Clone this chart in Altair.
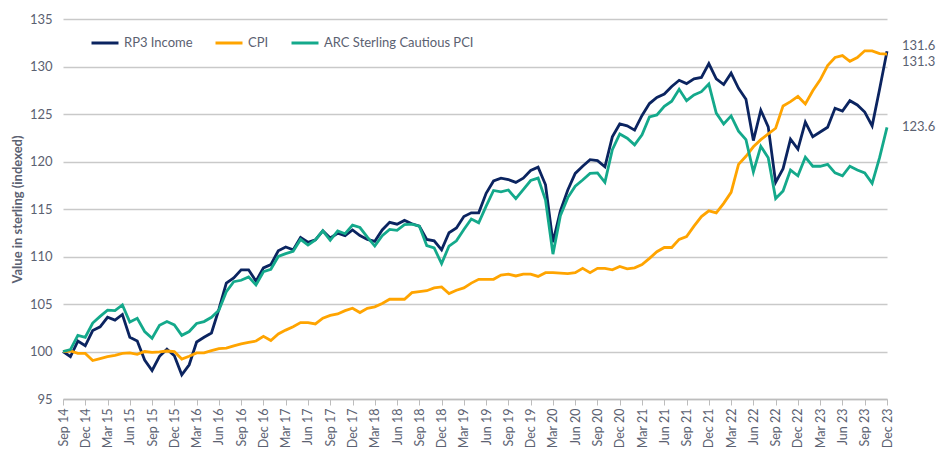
import json
import altair as alt
import pandas as pd

series_names = ["RP3 Income", "CPI", "ARC Sterling Cautious PCI"]
series_colors = ["#0b2460", "#ffa400", "#14a98b"]

tick_labels = ["Sep 14", "Dec 14", "Mar 15", "Jun 15", "Sep 15", "Dec 15", "Mar 16", "Jun 16",
               "Sep 16", "Dec 16", "Mar 17", "Jun 17", "Sep 17", "Dec 17", "Mar 18", "Jun 18",
               "Sep 18", "Dec 18", "Mar 19", "Jun 19", "Sep 19", "Dec 19", "Mar 20", "Jun 20",
               "Sep 20", "Dec 20", "Mar 21", "Jun 21", "Sep 21", "Dec 21", "Mar 22", "Jun 22",
               "Sep 22", "Dec 22", "Mar 23", "Jun 23", "Sep 23", "Dec 23"]

y_ticks = [95, 100, 105, 110, 115, 120, 125, 130, 135]

rp3 = [100.0, 99.45, 101.1, 100.6, 102.2, 102.6, 103.6, 103.3, 103.9, 101.5,
       101.1, 99.1, 98.0, 99.5, 100.25, 99.55, 97.55, 98.6, 101.0, 101.5,
       101.95, 104.45, 107.2, 107.75, 108.6, 108.6, 107.4, 108.8, 109.15, 110.6,
       111.0, 110.7, 112.0, 111.5, 111.75, 112.7, 111.95, 112.45, 112.2, 112.8,
       112.2, 111.8, 111.6, 112.8, 113.6, 113.4, 113.8, 113.45, 113.2, 111.8,
       111.65, 110.7, 112.5, 113.0, 114.2, 114.6, 114.6, 116.65, 117.95, 118.25,
       118.1, 117.8, 118.25, 119.05, 119.4, 117.55, 111.5, 114.8, 117.0, 118.75,
       119.5, 120.2, 120.1, 119.45, 122.6, 123.95, 123.75, 123.3, 124.85, 126.1,
       126.75, 127.1, 127.9, 128.55, 128.2, 128.7, 128.85, 130.3, 128.7, 128.1,
       129.3, 127.7, 126.55, 122.2, 125.4, 123.65, 117.8, 119.25, 122.35, 121.3,
       124.15, 122.6, 123.1, 123.6, 125.6, 125.3, 126.4, 125.95, 125.2, 123.75,
       127.6, 131.6]

cpi = [100.0, 100.05, 99.8, 99.8, 99.05, 99.25, 99.45, 99.6, 99.8, 99.85,
       99.7, 100.0, 99.9, 99.95, 100.05, 100.0, 99.2, 99.5, 99.85, 99.85,
       100.1, 100.3, 100.35, 100.6, 100.8, 100.95, 101.1, 101.6, 101.15, 101.85,
       102.25, 102.6, 103.05, 103.05, 102.9, 103.5, 103.8, 103.95, 104.3, 104.55,
       104.1, 104.55, 104.7, 105.05, 105.5, 105.5, 105.5, 106.2, 106.3, 106.4,
       106.7, 106.8, 106.1, 106.45, 106.7, 107.2, 107.6, 107.6, 107.6, 108.05,
       108.15, 107.95, 108.15, 108.15, 107.9, 108.3, 108.3, 108.25, 108.2, 108.3,
       108.75, 108.3, 108.75, 108.75, 108.6, 108.95, 108.7, 108.8, 109.15, 109.8,
       110.5, 110.95, 110.95, 111.8, 112.1, 113.2, 114.2, 114.8, 114.6, 115.6,
       116.75, 119.7, 120.55, 121.55, 122.3, 122.9, 123.5, 125.85, 126.3, 126.85,
       126.05, 127.45, 128.6, 130.1, 130.95, 131.15, 130.55, 130.95, 131.65, 131.65,
       131.35, 131.3]

arc = [100.0, 100.2, 101.7, 101.5, 103.0, 103.7, 104.35, 104.3, 104.9, 103.1,
       103.5, 102.1, 101.4, 102.75, 103.15, 102.8, 101.7, 102.1, 102.95, 103.15,
       103.6, 104.35, 106.3, 107.35, 107.5, 107.85, 107.0, 108.4, 108.65, 110.0,
       110.3, 110.55, 111.8, 111.2, 111.75, 112.7, 111.7, 112.7, 112.4, 113.3,
       113.05, 112.05, 111.1, 112.2, 112.85, 112.75, 113.35, 113.4, 113.2, 111.15,
       110.9, 109.25, 111.1, 111.65, 112.85, 113.95, 113.55, 115.3, 116.95, 116.8,
       117.0, 116.1, 117.05, 118.0, 118.25, 115.95, 110.25, 114.3, 116.2, 117.4,
       118.05, 118.75, 118.8, 117.8, 121.25, 122.9, 122.45, 121.75, 122.8, 124.7,
       124.9, 125.8, 126.35, 127.6, 126.4, 127.0, 127.35, 128.15, 125.1, 123.95,
       124.8, 123.2, 122.3, 118.9, 121.6, 120.4, 116.1, 116.9, 119.1, 118.5,
       120.45, 119.5, 119.5, 119.7, 118.8, 118.5, 119.5, 119.1, 118.8, 117.7,
       120.4, 123.6]

end_labels = ["131.6", "131.3", "123.6"]

FONT = "Lato"
GREY = "#5b6171"

n = len(rp3)
rows = []
for name, vals in zip(series_names, [rp3, cpi, arc]):
    for i, v in enumerate(vals):
        rows.append({"i": i, "series": name, "value": v})
df = pd.DataFrame(rows)

label_expr = json.dumps(tick_labels) + "[round(datum.value / 3)]"
x_values = list(range(0, n, 3))

x_enc = alt.X("i:Q",
              scale=alt.Scale(domain=[0, n - 1], nice=False, zero=False),
              axis=alt.Axis(values=x_values, tickCount=len(x_values) + 10,
                            labelExpr=label_expr,
                            labelAngle=270, labelOverlap=False, labelFlush=False,
                            labelBound=False, title=None, grid=False,
                            domain=True, domainColor="#bdbdbd", domainWidth=1.3,
                            ticks=True, tickColor="#bdbdbd", tickSize=6, tickWidth=1,
                            labelPadding=3, labelFontSize=12.5, labelColor=GREY,
                            labelFont=FONT))

y_enc = alt.Y("value:Q",
              scale=alt.Scale(domain=[95, 135], nice=False, zero=False),
              axis=alt.Axis(values=y_ticks, title="Value in sterling (indexed)",
                            grid=True, gridColor="#c9c9c9", gridWidth=1.3,
                            domain=False, ticks=False, labelPadding=11,
                            labelFontSize=13, labelColor=GREY, labelFont=FONT,
                            titleFont=FONT, titleFontSize=13, titleFontWeight="bold",
                            titleColor=GREY, titlePadding=5))

lines = alt.Chart(df).mark_line(strokeWidth=2.8).encode(
    x=x_enc,
    y=y_enc,
    color=alt.Color("series:N",
                    scale=alt.Scale(domain=series_names, range=series_colors),
                    legend=alt.Legend(orient="none", legendX=27, legendY=9,
                                      direction="horizontal", title=None,
                                      symbolType="stroke", symbolSize=729,
                                      symbolStrokeWidth=3, labelFontSize=13,
                                      labelColor=GREY, labelFont=FONT,
                                      columnPadding=16, labelOffset=4, padding=0)),
)

end_vals = [rp3[-1], cpi[-1], arc[-1]]
end_dy = [-5, 7.5, 0]
texts = []
for lab, v, dy in zip(end_labels, end_vals, end_dy):
    tdf = pd.DataFrame({"i": [n - 1], "value": [v], "label": [lab]})
    texts.append(alt.Chart(tdf).mark_text(align="left", baseline="middle", dx=15, dy=dy,
                                          fontSize=13, font=FONT, color=GREY).encode(
        x=alt.X("i:Q"), y=alt.Y("value:Q"), text="label:N"))

chart = alt.layer(lines, *texts).properties(
    width=824, height=380,
    autosize=alt.AutoSizeParams(type="none"),
    padding={"left": 55, "top": 11, "right": 55, "bottom": 48},
    background="white",
).configure_view(stroke=None)

chart.save("out.html", embed_options={"renderer": "svg", "actions": False})
